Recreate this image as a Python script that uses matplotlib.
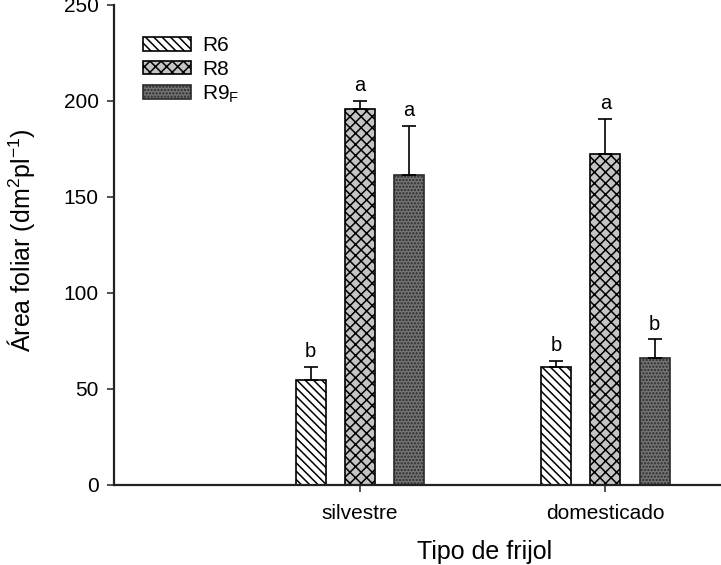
import numpy as np
import matplotlib
matplotlib.use("Agg")
import matplotlib.pyplot as plt

plt.rcParams['font.family'] = ['Liberation Sans', 'DejaVu Sans']
plt.rcParams['mathtext.fontset'] = 'custom'
plt.rcParams['mathtext.rm'] = 'Liberation Sans'
plt.rcParams['mathtext.it'] = 'Liberation Sans:italic'
plt.rcParams['hatch.linewidth'] = 1.1

# data
tipos = ['silvestre', 'domesticado']
etapas = ['R6', 'R8', 'R9$_\\mathrm{F}$']
area = {
    'R6': [54.7, 61.5],
    'R8': [195.8, 172.4],
    'R9': [161.5, 66.0],
}
err = {
    'R6': [6.8, 3.1],
    'R8': [4.2, 18.2],
    'R9': [25.5, 10.0],
}
letras = {
    'R6': ['b', 'b'],
    'R8': ['a', 'a'],
    'R9': ['a', 'b'],
}

estilos = {
    'R6': dict(color='white', hatch='\\\\\\\\', edgecolor='black'),
    'R8': dict(color='#c4c4c4', hatch='xxx', edgecolor='black'),
    'R9': dict(color='#747474', hatch='.....', edgecolor='#2a2a2a'),
}

fig = plt.figure(figsize=(7.21, 5.65), dpi=100)
ax = fig.add_axes([0.158, 0.1416, 0.842, 0.8496])

x = np.arange(1, len(tipos) + 1)
w = 0.122
offs = [-0.2, 0.0, 0.2]
handles = []
for i, k in enumerate(['R6', 'R8', 'R9']):
    st = estilos[k]
    b = ax.bar(x + offs[i], area[k], width=w, color=st['color'], hatch=st['hatch'],
               edgecolor=st['edgecolor'], linewidth=1.2, label=etapas[i], zorder=2)
    handles.append(b)
    ax.errorbar(x + offs[i], area[k], yerr=[np.zeros(len(tipos)), err[k]], fmt='none',
                ecolor='black', elinewidth=1.2, capsize=5.2, capthick=1.2, zorder=3)
    for xi, yi, ei, l in zip(x + offs[i], area[k], err[k], letras[k]):
        ax.annotate(l, (xi, yi + ei), xytext=(0, 4), textcoords='offset points',
                    ha='center', va='bottom', fontsize=14.5)

ax.set_xlim(0, 2.47)
ax.set_ylim(0, 250)
ax.set_yticks([0, 50, 100, 150, 200, 250])
ax.set_xticks(x)
ax.set_xticklabels(tipos)
for s in ['top', 'right']:
    ax.spines[s].set_visible(False)
for s in ['left', 'bottom']:
    ax.spines[s].set_color('#222222')
    ax.spines[s].set_linewidth(1.6)
    ax.spines[s].set_zorder(4)
ax.tick_params(axis='both', direction='out', length=5, width=1.1, colors='#222222',
               labelsize=15, labelcolor='black')
ax.tick_params(axis='y', pad=6)
ax.tick_params(axis='x', pad=9)

ax.set_ylabel('Área foliar (dm$^2$pl$^{-1}$)', fontsize=18)
ax.yaxis.set_label_coords(-0.127, 0.51)
ax.set_xlabel('Tipo de frijol', fontsize=18)
ax.xaxis.set_label_coords(0.61, -0.115)

ax.legend(handles=handles, loc='upper left', bbox_to_anchor=(0.048, 0.935), frameon=False,
          fontsize=15, handlelength=2.3, handleheight=0.63, handletextpad=0.55,
          labelspacing=0.22, borderaxespad=0, borderpad=0)

fig.savefig('out.png', dpi=100)
